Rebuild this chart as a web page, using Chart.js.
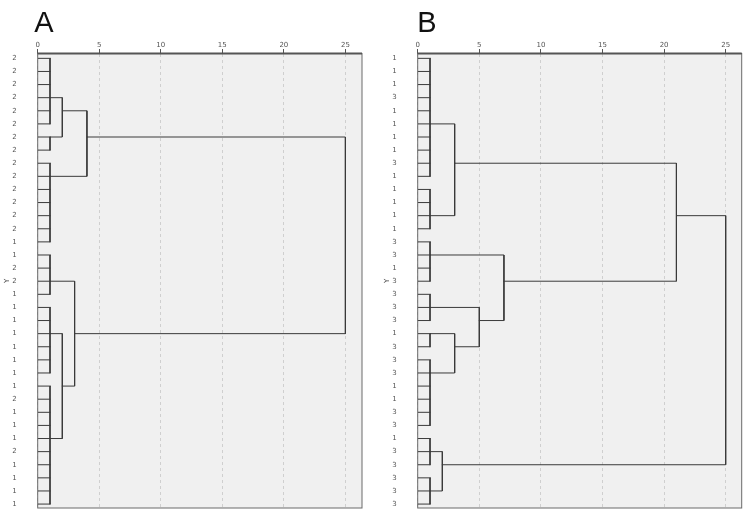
<!DOCTYPE html>
<html>
<head>
<meta charset="utf-8">
<script src="https://cdn.jsdelivr.net/npm/chart.js@4"></script>
<style>
  body { margin: 0; background: #fff; }
  #wrapA { position: absolute; left: 0; top: 0; width: 375px; height: 518px; }
  #wrapB { position: absolute; left: 380px; top: 0; width: 370px; height: 518px; }
</style>
</head>
<body>
<div id="wrapA"><canvas id="chartA"></canvas></div>
<div id="wrapB"><canvas id="chartB"></canvas></div>
<script>
// leaf labels, top to bottom
var leavesA = ['2','2','2','2','2','2','2','2','2','2','2','2','2','2','1','1','2','2',
               '1','1','1','1','1','1','1','1','2','1','1','1','2','1','1','1','1'];
var leavesB = ['1','1','1','3','1','1','1','1','3','1','1','1','1','1','3','3','1','3',
               '3','3','3','1','3','3','3','1','1','3','3','1','3','3','3','3','3'];

// first level clusters: leaf range, row of the connector, distance
var groupsA = [[1, 6], [7, 8], [9, 15], [16, 19], [20, 25], [26, 35]];
var groupRowA = [4, 7, 10, 18, 22, 30];
var groupDistA = [1, 1, 1, 1, 1, 1];
// higher merges: children (g = group, j = join), row of connector, distance
var joinsA = [['g0', 'g1'], ['j0', 'g2'], ['g4', 'g5'], ['g3', 'j2'], ['j1', 'j3']];
var joinRowA = [5, 7, 26, 22, null];
var joinDistA = [2, 4, 2, 3, 25];

var groupsB = [[1, 10], [11, 14], [15, 18], [19, 21], [22, 23], [24, 29], [30, 32], [33, 35]];
var groupRowB = [6, 13, 16, 20, 22, 25, 31, 34];
var groupDistB = [1, 1, 1, 1, 1, 1, 1, 1];
var joinsB = [['g0', 'g1'], ['g4', 'g5'], ['g3', 'j1'], ['g2', 'j2'], ['j0', 'j3'], ['g6', 'g7'], ['j4', 'j5']];
var joinRowB = [9, 23, 21, 18, 13, 32, null];
var joinDistB = [3, 3, 5, 7, 21, 2, 25];

var xTicks = [0, 5, 10, 15, 20, 25];

function buildSegments(groups, groupRow, groupDist, joins, joinRow, joinDist) {
  var segs = [];
  function node(id) {
    var i = +id.slice(1);
    return id[0] === 'g' ? { row: groupRow[i], d: groupDist[i] } : { row: joinRow[i], d: joinDist[i] };
  }
  groups.forEach(function (g, i) {
    var d = groupDist[i];
    for (var r = g[0]; r <= g[1]; r++) segs.push([{ x: 0, y: r }, { x: d, y: r }]);
    segs.push([{ x: d, y: g[0] }, { x: d, y: g[1] }]);
  });
  joins.forEach(function (j, i) {
    var a = node(j[0]), b = node(j[1]), d = joinDist[i];
    segs.push([{ x: a.d, y: a.row }, { x: d, y: a.row }, { x: d, y: b.row }, { x: b.d, y: b.row }]);
  });
  return segs.map(function (s) {
    return {
      data: s, showLine: true, borderColor: '#3a3a3a', borderWidth: 1,
      pointRadius: 0, pointHoverRadius: 0, borderCapStyle: 'square', fill: false
    };
  });
}

var panelBox = {
  id: 'panelBox',
  beforeDraw: function (chart) {
    var ctx = chart.ctx, a = chart.chartArea;
    ctx.save();
    ctx.fillStyle = '#f0f0f0';
    ctx.fillRect(a.left, a.top, a.right - a.left, a.bottom - a.top);
    ctx.restore();
  },
  afterDraw: function (chart, args, opts) {
    var ctx = chart.ctx, a = chart.chartArea;
    ctx.save();
    ctx.strokeStyle = '#6a6a6a';
    ctx.lineWidth = 1;
    ctx.strokeRect(a.left, a.top, a.right - a.left, a.bottom - a.top);
    ctx.strokeStyle = '#555';
    ctx.lineWidth = 2;
    ctx.beginPath();
    ctx.moveTo(a.left, a.top);
    ctx.lineTo(a.right, a.top);
    ctx.stroke();
    ctx.fillStyle = '#111';
    ctx.font = '29px "Liberation Sans", sans-serif';
    ctx.textBaseline = 'alphabetic';
    ctx.fillText(opts.letter, a.left + opts.dx, 32);
    ctx.restore();
  }
};

function makeChart(id, leaves, datasets, xMax, letter, dx, padRight) {
  return new Chart(document.getElementById(id), {
    type: 'scatter',
    data: { datasets: datasets },
    plugins: [panelBox],
    options: {
      responsive: true,
      maintainAspectRatio: false,
      animation: false,
      events: [],
      layout: { padding: { top: 40, bottom: 10, right: padRight, left: 0 } },
      plugins: {
        legend: { display: false },
        tooltip: { enabled: false },
        panelBox: { letter: letter, dx: dx }
      },
      scales: {
        x: {
          type: 'linear',
          position: 'top',
          min: 0,
          max: xMax,
          afterFit: function (s) { s.height = 13.5; },
          afterBuildTicks: function (s) { s.ticks = xTicks.map(function (v) { return { value: v }; }); },
          ticks: { padding: 0, color: '#555', font: { family: 'DejaVu Sans', size: 7 }, maxRotation: 0 },
          grid: { color: '#cfcfcf', tickColor: '#555', tickLength: 4.5, tickWidth: 1, lineWidth: 1 },
          border: { display: false, dash: [3, 3] }
        },
        y: {
          type: 'linear',
          reverse: true,
          min: 0.63,
          max: 35.3,
          afterFit: function (s) { s.width = 37.7; s.paddingTop = 0; s.paddingBottom = 0; },
          afterBuildTicks: function (s) { s.ticks = leaves.map(function (l, i) { return { value: i + 1 }; }); },
          ticks: {
            autoSkip: false, padding: 21, color: '#555',
            font: { family: 'DejaVu Sans', size: 7 },
            callback: function (v) { return leaves[v - 1]; }
          },
          grid: { display: false, drawTicks: false },
          border: { display: false },
          title: { display: true, text: 'Y', color: '#444', font: { family: 'DejaVu Sans', size: 7 }, padding: { top: 3, bottom: 0 } }
        }
      }
    }
  });
}

makeChart('chartA', leavesA,
  buildSegments(groupsA, groupRowA, groupDistA, joinsA, joinRowA, joinDistA),
  26.35, 'A', -3.4, 13);
makeChart('chartB', leavesB,
  buildSegments(groupsB, groupRowB, groupDistB, joinsB, joinRowB, joinDistB),
  26.3, 'B', -0.4, 8.3);
</script>
</body>
</html>
